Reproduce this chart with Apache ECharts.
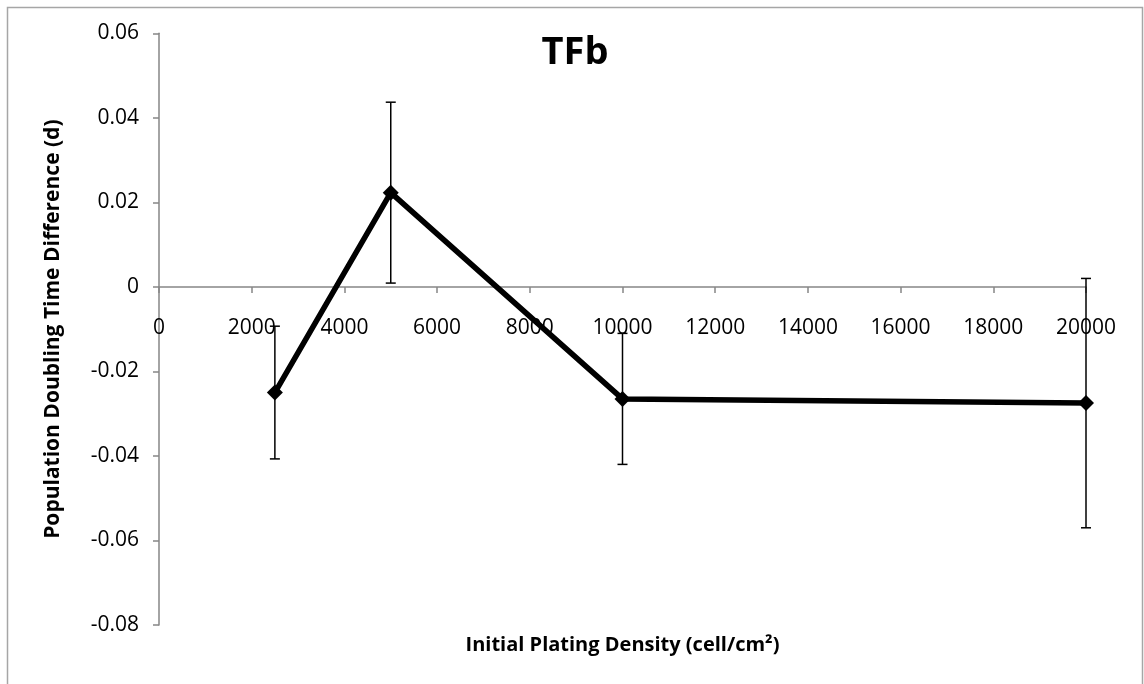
<!DOCTYPE html>
<html>
<head>
<meta charset="utf-8">
<script src="https://cdn.jsdelivr.net/npm/echarts@6/dist/echarts.min.js"></script>
<style>
html,body{margin:0;padding:0;background:#fff;}
#chart{width:1144px;height:684px;}
</style>
</head>
<body>
<div id="chart"></div>
<script>
// Data
var densities = [2500, 5000, 10000, 20000];
var meanDiff = [-0.0250, 0.0223, -0.0265, -0.0275];
var errDiff = [0.0157, 0.0214, 0.0155, 0.0295];
var xTicks = {min: 0, max: 20000, interval: 2000};
var yTicks = {min: -0.08, max: 0.06, interval: 0.02};

var lineData = densities.map(function (d, i) { return [d, meanDiff[i]]; });
var errData = densities.map(function (d, i) { return [d, meanDiff[i] - errDiff[i], meanDiff[i] + errDiff[i]]; });

var chart = echarts.init(document.getElementById('chart'));
var fontFam = '"Open Sans", "Liberation Sans", sans-serif';
var axisGray = '#868686';
chart.setOption({
  backgroundColor: '#ffffff',
  animation: false,
  title: {
    text: 'TFb',
    left: 570,
    top: 29,
    textAlign: 'center',
    textStyle: {fontFamily: fontFam, fontWeight: 'bold', fontSize: 38, color: '#000'}
  },
  graphic: [{
    type: 'rect',
    shape: {x: 7.5, y: 7.5, width: 1135, height: 700},
    style: {fill: 'none', stroke: '#a6a6a6', lineWidth: 1.5},
    silent: true
  }],
  grid: {left: 159, right: 58, top: 33.3, bottom: 59, containLabel: false, outerBoundsMode: 'none'},
  xAxis: [{
    type: 'value',
    position: 'bottom',
    offset: 0,
    min: xTicks.min, max: xTicks.max, interval: xTicks.interval,
    axisLine: {onZero: false, lineStyle: {color: axisGray, width: 1.5}},
    axisTick: {show: true, inside: false, length: 6, lineStyle: {color: axisGray, width: 1.5}},
    axisLabel: {fontFamily: fontFam, fontSize: 21, color: '#000', margin: 31,
      formatter: function (v) { return String(v); }},
    splitLine: {show: false}
  }, {
    type: 'value',
    position: 'bottom',
    min: xTicks.min, max: xTicks.max, interval: xTicks.interval,
    name: 'Initial Plating Density (cell/cm\u00B2)',
    nameLocation: 'middle',
    nameGap: 10,
    nameTextStyle: {fontFamily: fontFam, fontWeight: 'bold', fontSize: 20, color: '#000'},
    axisLine: {show: false, onZero: false},
    axisTick: {show: false},
    axisLabel: {show: false},
    splitLine: {show: false}
  }],
  yAxis: {
    type: 'value',
    min: yTicks.min, max: yTicks.max, interval: yTicks.interval,
    name: 'Population Doubling Time Difference (d)',
    nameLocation: 'middle',
    nameGap: 95,
    nameTextStyle: {fontFamily: fontFam, fontWeight: 'bold', fontSize: 21, color: '#000'},
    axisLine: {show: true, onZero: false, lineStyle: {color: axisGray, width: 1.5}},
    axisTick: {show: true, inside: false, length: 6, lineStyle: {color: axisGray, width: 1.5}},
    axisLabel: {fontFamily: fontFam, fontSize: 21, color: '#000', margin: 20,
      formatter: function (v) { return Math.abs(v) < 1e-9 ? '0' : String(+v.toFixed(2)); }},
    splitLine: {show: false}
  },
  series: [{
    type: 'custom',
    name: 'error',
    data: errData,
    z: 3,
    renderItem: function (params, api) {
      var x = api.value(0);
      var lo = api.coord([x, api.value(1)]);
      var hi = api.coord([x, api.value(2)]);
      var hw = 5;
      var st = {stroke: '#000', lineWidth: 1.5};
      return {
        type: 'group',
        children: [
          {type: 'line', shape: {x1: lo[0], y1: lo[1], x2: hi[0], y2: hi[1]}, style: st},
          {type: 'line', shape: {x1: lo[0] - hw, y1: lo[1], x2: lo[0] + hw, y2: lo[1]}, style: st},
          {type: 'line', shape: {x1: hi[0] - hw, y1: hi[1], x2: hi[0] + hw, y2: hi[1]}, style: st}
        ]
      };
    }
  }, {
    type: 'line',
    name: 'TFb',
    data: lineData,
    z: 4,
    symbol: 'diamond',
    symbolSize: 16,
    lineStyle: {color: '#000', width: 5.5},
    itemStyle: {color: '#000'}
  }]
});

// Move the primary x axis (line, ticks, labels) up to cross the y axis at zero
var yZero = chart.convertToPixel({yAxisIndex: 0}, 0);
var yBottom = chart.convertToPixel({yAxisIndex: 0}, yTicks.min);
chart.setOption({xAxis: [{offset: -(yBottom - yZero)}, {}]});
</script>
</body>
</html>
